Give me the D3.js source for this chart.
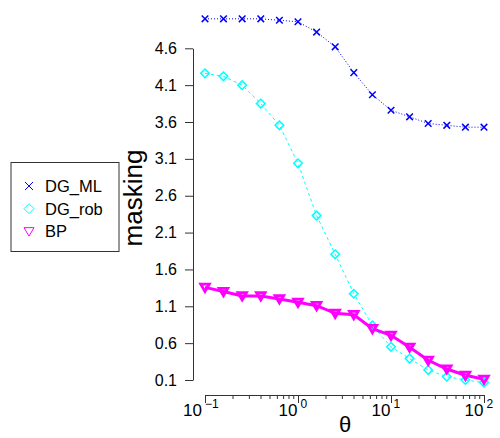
<!DOCTYPE html>
<html>
<head>
<meta charset="utf-8">
<script src="https://cdn.jsdelivr.net/npm/d3@7"></script>
<style>
  body { margin: 0; background: #fff; }
  text { font-family: "Liberation Sans", Arial, sans-serif; }
</style>
</head>
<body>
<script>
// theta values: 5 per decade from 0.1 to 100
var theta = [0.1, 0.158, 0.251, 0.398, 0.631, 1, 1.585, 2.512, 3.981, 6.31,
             10, 15.85, 25.12, 39.81, 63.1, 100];

var dgML  = [5.00, 5.00, 5.00, 5.00, 4.98, 4.96, 4.82, 4.62, 4.27, 3.97,
             3.76, 3.67, 3.58, 3.555, 3.53, 3.53];
var dgRob = [4.26, 4.22, 4.10, 3.85, 3.555, 3.04, 2.33, 1.805, 1.27, 0.84,
             0.55, 0.39, 0.235, 0.145, 0.10, 0.065];
var bp    = [1.357, 1.30, 1.24, 1.24, 1.20, 1.154, 1.108, 1.005, 0.986, 0.796,
             0.706, 0.544, 0.367, 0.249, 0.164, 0.11];

var yTicks = [0.1, 0.6, 1.1, 1.6, 2.1, 2.6, 3.1, 3.6, 4.1, 4.6];
var xTicks = [0.1, 1, 10, 100];
var xTickLabels = ["-1", "0", "1", "2"];
var seriesNames = ["DG_ML", "DG_rob", "BP"];

var W = 500, H = 438;
var svg = d3.select("body").append("svg")
  .attr("width", W)
  .attr("height", H);

var x = d3.scaleLog().domain([0.1, 100]).range([205, 484]);
var y = d3.scaleLinear().domain([0.1, 4.6]).range([380, 48.3]);

// y axis
var yAxis = svg.append("g")
  .attr("transform", "translate(193,0)")
  .call(d3.axisLeft(y).tickValues(yTicks).tickSize(8).tickPadding(8)
    .tickSizeOuter(0).tickFormat(d3.format(".1f")));
yAxis.select(".domain").attr("stroke", "#333");
yAxis.selectAll(".tick line").attr("stroke", "#333");
yAxis.selectAll(".tick text").attr("font-size", 16).attr("fill", "#000")
  .attr("font-family", "Liberation Sans, Arial, sans-serif");

// x axis: minor ticks
var minor = [];
for (var e = -1; e < 2; e++) {
  for (var m = 2; m <= 9; m++) minor.push(m * Math.pow(10, e));
}
var xAxis = svg.append("g")
  .attr("transform", "translate(0,395)")
  .call(d3.axisBottom(x).tickValues(xTicks).tickSize(8).tickSizeOuter(0)
    .tickFormat(""));
xAxis.select(".domain").attr("stroke", "#333");
xAxis.selectAll(".tick line").attr("stroke", "#333");
xAxis.selectAll(".minor")
  .data(minor)
  .enter().append("line")
  .attr("class", "minor")
  .attr("x1", function(d) { return x(d); })
  .attr("x2", function(d) { return x(d); })
  .attr("y1", 0).attr("y2", 4)
  .attr("stroke", "#333");

// x tick labels 10^k
var xl = svg.selectAll(".xlab")
  .data(xTicks)
  .enter().append("g")
  .attr("class", "xlab")
  .attr("transform", function(d, i) {
    var shift = xTickLabels[i].charAt(0) === "-" ? -3 : -0.5;
    return "translate(" + (x(d) + shift) + ",0)";
  });
xl.append("text")
  .attr("y", 416)
  .attr("text-anchor", "end")
  .attr("font-size", 17)
  .text("10");
xl.append("text")
  .attr("x", 3)
  .attr("y", 408)
  .attr("font-size", 12)
  .text(function(d, i) { return xTickLabels[i].replace("-", "\u2212"); });

// axis titles
svg.append("text")
  .attr("x", 345).attr("y", 432)
  .attr("text-anchor", "middle")
  .attr("font-size", 22)
  .text("\u03b8");
svg.append("text")
  .attr("transform", "translate(142,198) rotate(-90)")
  .attr("text-anchor", "middle")
  .attr("font-size", 26)
  .text("masking");

// lines
var line = d3.line()
  .x(function(d, i) { return x(theta[i]); })
  .y(function(d) { return y(d); });

svg.append("path").datum(dgML)
  .attr("d", line)
  .attr("fill", "none")
  .attr("stroke", "#0000ff")
  .attr("stroke-width", 1)
  .attr("stroke-dasharray", "1,2");
svg.append("path").datum(dgRob)
  .attr("d", line)
  .attr("fill", "none")
  .attr("stroke", "#00ffff")
  .attr("stroke-width", 1)
  .attr("stroke-dasharray", "3,3");
svg.append("path").datum(bp)
  .attr("d", line)
  .attr("fill", "none")
  .attr("stroke", "#ff00ff")
  .attr("stroke-width", 3);

// marker shapes
function crossPath(s) {
  return "M" + (-s) + "," + (-s) + "L" + s + "," + s +
         "M" + (-s) + "," + s + "L" + s + "," + (-s);
}
function diamondPath(s) {
  return "M0," + (-s) + "L" + s + ",0L0," + s + "L" + (-s) + ",0Z";
}
function triPath(s) {
  return "M" + (-s) + "," + (-s * 0.75) + "L" + s + "," + (-s * 0.75) +
         "L0," + (s * 0.95) + "Z";
}

function markers(data, pathStr, color, sw) {
  svg.append("g").selectAll("path")
    .data(data)
    .enter().append("path")
    .attr("transform", function(d, i) {
      return "translate(" + x(theta[i]) + "," + y(d) + ")";
    })
    .attr("d", pathStr)
    .attr("fill", "none")
    .attr("stroke", color)
    .attr("stroke-width", sw);
}
markers(dgML, crossPath(3.3), "#0000ff", 1.5);
markers(dgRob, diamondPath(4.3), "#00ffff", 1.5);
markers(bp, triPath(4.3), "#ff00ff", 2.8);

// legend
var lg = svg.append("g");
lg.append("rect")
  .attr("x", 11).attr("y", 162.5)
  .attr("width", 108).attr("height", 89)
  .attr("fill", "#fff")
  .attr("stroke", "#333");
var lgShapes = [crossPath(4), diamondPath(5), triPath(5)];
var lgColors = ["#0000ff", "#00ffff", "#ff00ff"];
var lgItems = lg.selectAll(".item")
  .data(seriesNames)
  .enter().append("g")
  .attr("transform", function(d, i) { return "translate(29," + (186 + i * 22.7) + ")"; });
lgItems.append("path")
  .attr("d", function(d, i) { return lgShapes[i]; })
  .attr("fill", "none")
  .attr("stroke", function(d, i) { return lgColors[i]; })
  .attr("stroke-width", 1);
lgItems.append("text")
  .attr("x", 16).attr("y", 6)
  .attr("font-size", 16.5)
  .text(function(d) { return d; });
</script>
</body>
</html>
